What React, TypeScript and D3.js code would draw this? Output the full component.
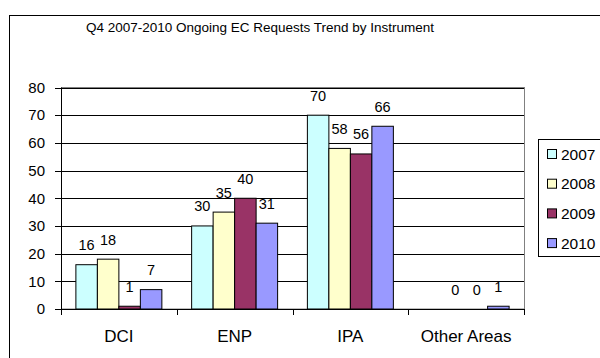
import React from "react";
import * as d3 from "d3";

const categories = ["DCI", "ENP", "IPA", "Other Areas"];
const seriesNames = ["2007", "2008", "2009", "2010"];
const values2007: (number | null)[] = [16, 30, 70, null];
const values2008: (number | null)[] = [18, 35, 58, 0];
const values2009: (number | null)[] = [1, 40, 56, 0];
const values2010: (number | null)[] = [7, 31, 66, 1];
const yTicks = [0, 10, 20, 30, 40, 50, 60, 70, 80];
const titleText = "Q4 2007-2010 Ongoing EC Requests Trend by Instrument";

const seriesValues = [values2007, values2008, values2009, values2010];
const colors = ["#CCFFFF", "#FFFFCC", "#993366", "#9999FF"];
const FONT = "'Liberation Sans', Arimo, sans-serif";

export default function App() {
  const W = 600;
  const H = 358;
  const plot = { left: 61, right: 524, top: 87.5, bottom: 309 };

  const y = d3.scaleLinear().domain([0, 80]).range([plot.bottom, plot.top]);
  const x0 = d3.scaleBand<string>().domain(categories).range([plot.left, plot.right]).padding(0);
  const band = x0.bandwidth();
  const barW = band / (4 + 1.385);
  const groupW = barW * 4;
  const x1 = d3.scaleBand<string>().domain(seriesNames).range([0, groupW]).padding(0);
  const groupOffset = (band - groupW) / 2;

  const legendX = 538.5;
  const legendTop = 139.5;
  const legendH = 117;
  const legendStep = 29.7;
  const legendY0 = 154;

  return (
    <svg
      width={W}
      height={H}
      style={{ position: "absolute", left: 0, top: 0, background: "#fff" }}
      fontFamily={FONT}
    >
      <rect x={0} y={0} width={W} height={H} fill="#fff" />
      {/* outer chart frame */}
      <rect x={9.5} y={15.5} width={640} height={400} fill="#fff" stroke="#000" strokeWidth={1} />

      <text x={260} y={32} textAnchor="middle" fontSize={13.5} fill="#000">
        {titleText}
      </text>

      {/* plot area border */}
      <rect
        x={plot.left + 0.5}
        y={y(80)}
        width={plot.right - plot.left}
        height={plot.bottom - y(80)}
        fill="#fff"
        stroke="#808080"
        strokeWidth={1}
      />

      {/* gridlines */}
      {yTicks.map((t) => (
        <line
          key={"g" + t}
          x1={plot.left}
          x2={plot.right}
          y1={Math.round(y(t)) + 0.5}
          y2={Math.round(y(t)) + 0.5}
          stroke="#000"
          strokeWidth={1}
        />
      ))}

      {/* bars */}
      {categories.map((c, ci) =>
        seriesNames.map((s, si) => {
          const v = seriesValues[si][ci];
          if (v === null || v === 0) return null;
          const bx = (x0(c) as number) + groupOffset + (x1(s) as number);
          return (
            <rect
              key={c + s}
              x={bx}
              y={y(v)}
              width={x1.bandwidth()}
              height={y(0) - y(v)}
              fill={colors[si]}
              stroke="#000"
              strokeWidth={1}
            />
          );
        })
      )}

      {/* data labels */}
      {categories.map((c, ci) =>
        seriesNames.map((s, si) => {
          const v = seriesValues[si][ci];
          if (v === null) return null;
          const cx = (x0(c) as number) + groupOffset + (x1(s) as number) + x1.bandwidth() / 2;
          return (
            <text
              key={"l" + c + s}
              x={cx}
              y={y(v) - 14.5}
              textAnchor="middle"
              fontSize={14.5}
              fill="#000"
            >
              {v}
            </text>
          );
        })
      )}

      {/* y axis */}
      <line x1={plot.left + 0.5} x2={plot.left + 0.5} y1={y(80)} y2={plot.bottom + 6} stroke="#000" />
      {yTicks.map((t) => (
        <g key={"yt" + t}>
          <line
            x1={plot.left - 6}
            x2={plot.left}
            y1={Math.round(y(t)) + 0.5}
            y2={Math.round(y(t)) + 0.5}
            stroke="#000"
          />
          <text x={45} y={y(t) + 5.3} textAnchor="end" fontSize={15} fill="#000">
            {t}
          </text>
        </g>
      ))}

      {/* x axis */}
      <line x1={plot.left} x2={plot.right} y1={Math.round(y(0)) + 0.5} y2={Math.round(y(0)) + 0.5} stroke="#000" />
      {categories.map((c) => (
        <line
          key={"xt" + c}
          x1={Math.round((x0(c) as number) + band) + 0.5}
          x2={Math.round((x0(c) as number) + band) + 0.5}
          y1={plot.bottom}
          y2={plot.bottom + 6}
          stroke="#000"
        />
      ))}
      {categories.map((c) => (
        <text
          key={"xl" + c}
          x={(x0(c) as number) + band / 2}
          y={341.5}
          textAnchor="middle"
          fontSize={17}
          fill="#000"
        >
          {c}
        </text>
      ))}

      {/* legend */}
      <rect x={legendX} y={legendTop} width={120} height={legendH} fill="#fff" stroke="#000" strokeWidth={1} />
      {seriesNames.map((s, i) => {
        const cy = legendY0 + i * legendStep;
        return (
          <g key={"lg" + s}>
            <rect x={547.5} y={cy - 4.5} width={9} height={9} fill={colors[i]} stroke="#000" strokeWidth={1} />
            <text x={561} y={cy + 5.5} fontSize={15.5} fill="#000">
              {s}
            </text>
          </g>
        );
      })}
    </svg>
  );
}
